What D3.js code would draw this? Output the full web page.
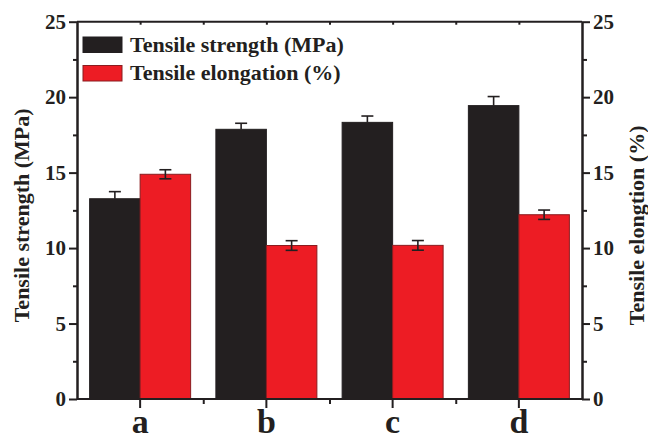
<!DOCTYPE html>
<html>
<head>
<meta charset="utf-8">
<script src="https://cdn.jsdelivr.net/npm/d3@7"></script>
<style>
    body { margin: 0; background: #fff; }
    text { font-family: "Liberation Serif", "Times New Roman", serif; font-weight: bold; fill: #231f20; }
</style>
</head>
<body>
<script>
var categories = ["a", "b", "c", "d"];
var strength = [13.27, 17.87, 18.33, 19.44];
var strengthErr = [0.47, 0.40, 0.42, 0.60];
var elongation = [14.89, 10.17, 10.18, 12.21];
var elongationErr = [0.30, 0.32, 0.32, 0.31];
var seriesNames = ["Tensile strength (MPa)", "Tensile elongation (%)"];
var yTicks = [0, 5, 10, 15, 20, 25];
var yMinorTicks = [2.5, 7.5, 12.5, 17.5, 22.5];

function init() {
    var w = 648;
    var h = 439;
    var left = 77, right = 582, top = 21.7, bottom = 399;
    var colors = ["#231f20", "#ed1c24"];
    var strokes = ["#231f20", "#8a1c1f"];

    var svg = d3.select("body")
        .append("svg")
        .attr("width", w)
        .attr("height", h);

    var x = d3.scaleBand()
        .domain(categories)
        .range([left, right])
        .paddingInner(0.2)
        .paddingOuter(0.1);

    var xs = d3.scaleBand()
        .domain([0, 1])
        .range([0, x.bandwidth()]);

    var yL = d3.scaleLinear().domain([0, 25]).range([bottom, top]);
    var yR = d3.scaleLinear().domain([0, 25]).range([bottom, top]);

    var rows = categories.map(function (c, i) {
        return [
            { cat: c, s: 0, v: strength[i], e: strengthErr[i], y: yL },
            { cat: c, s: 1, v: elongation[i], e: elongationErr[i], y: yR }
        ];
    });
    var flat = [].concat.apply([], rows);

    // bars
    svg.selectAll("rect.bar")
        .data(flat)
        .enter()
        .append("rect")
        .attr("class", "bar")
        .attr("x", function (d) { return x(d.cat) + xs(d.s); })
        .attr("width", xs.bandwidth())
        .attr("y", function (d) { return d.y(d.v); })
        .attr("height", function (d) { return bottom - d.y(d.v); })
        .attr("fill", function (d) { return colors[d.s]; })
        .attr("stroke", function (d) { return strokes[d.s]; })
        .attr("stroke-width", 1);

    // error bars
    var eb = svg.selectAll("g.err")
        .data(flat)
        .enter()
        .append("g")
        .attr("class", "err")
        .attr("stroke", "#231f20")
        .attr("stroke-width", 1.6);
    function cx(d) { return x(d.cat) + xs(d.s) + xs.bandwidth() / 2; }
    eb.append("line")
        .attr("x1", cx).attr("x2", cx)
        .attr("y1", function (d) { return d.y(d.v + d.e); })
        .attr("y2", function (d) { return d.s === 0 ? d.y(d.v) : d.y(d.v - d.e); });
    eb.append("line")
        .attr("x1", function (d) { return cx(d) - 6; })
        .attr("x2", function (d) { return cx(d) + 6; })
        .attr("y1", function (d) { return d.y(d.v + d.e); })
        .attr("y2", function (d) { return d.y(d.v + d.e); });
    eb.filter(function (d) { return d.s === 1; })
        .append("line")
        .attr("x1", function (d) { return cx(d) - 6; })
        .attr("x2", function (d) { return cx(d) + 6; })
        .attr("y1", function (d) { return d.y(d.v - d.e); })
        .attr("y2", function (d) { return d.y(d.v - d.e); });

    // axes
    var centers = categories.map(function (c) { return x(c) + x.bandwidth() / 2; });
    var mids = centers.slice(0, -1).map(function (c) { return c + x.step() / 2; });
    var xPix = d3.scaleLinear().domain([0, w]).range([0, w]);

    function styleAxis(g) {
        g.selectAll("path, line").attr("stroke", "#231f20").attr("stroke-width", 2);
        g.selectAll("text").attr("font-size", "21px").attr("fill", "#231f20");
    }

    svg.append("g")
        .attr("transform", "translate(0," + bottom + ")")
        .call(d3.axisBottom(xPix).tickValues(mids).tickSize(5).tickFormat("").tickSizeOuter(0))
        .call(styleAxis)
        .select(".domain").attr("d", "M" + left + ",0H" + right);
    var xb = svg.append("g")
        .attr("transform", "translate(0," + bottom + ")")
        .call(d3.axisBottom(x).tickSize(9).tickSizeOuter(0))
        .call(styleAxis);
    xb.select(".domain").remove();
    xb.selectAll("text")
        .attr("font-size", "34px")
        .attr("y", 34)
        .attr("dy", null);

    var xt = svg.append("g")
        .attr("transform", "translate(0," + top + ")")
        .call(d3.axisBottom(xPix).tickValues(centers.concat(mids)).tickSize(3).tickFormat("").tickSizeOuter(0))
        .call(styleAxis);
    xt.select(".domain").attr("d", "M" + left + ",0H" + right);

    svg.append("g")
        .attr("transform", "translate(" + left + ",0)")
        .call(d3.axisLeft(yL).tickValues(yMinorTicks).tickSize(4).tickFormat("").tickSizeOuter(0))
        .call(styleAxis);
    svg.append("g")
        .attr("transform", "translate(" + left + ",0)")
        .call(d3.axisLeft(yL).tickValues(yTicks).tickSize(8).tickPadding(3).tickSizeOuter(0))
        .call(styleAxis);
    svg.append("g")
        .attr("transform", "translate(" + right + ",0)")
        .call(d3.axisRight(yR).tickValues(yMinorTicks).tickSize(5).tickFormat("").tickSizeOuter(0))
        .call(styleAxis);
    svg.append("g")
        .attr("transform", "translate(" + right + ",0)")
        .call(d3.axisRight(yR).tickValues(yTicks).tickSize(8).tickPadding(3).tickSizeOuter(0))
        .call(styleAxis);

    // axis titles
    svg.append("text")
        .attr("transform", "translate(29," + ((top + bottom) / 2 + 5) + ") rotate(-90)")
        .attr("text-anchor", "middle")
        .attr("font-size", "22px")
        .text("Tensile strength (MPa)");
    svg.append("text")
        .attr("transform", "translate(644," + ((top + bottom) / 2 + 15) + ") rotate(-90)")
        .attr("text-anchor", "middle")
        .attr("font-size", "22px")
        .text("Tensile elongtion (%)");

    // legend
    var lg = svg.selectAll("g.legend")
        .data(seriesNames)
        .enter()
        .append("g")
        .attr("class", "legend")
        .attr("transform", function (d, i) { return "translate(83," + (37 + i * 28.5) + ")"; });
    lg.append("rect")
        .attr("width", 39)
        .attr("height", 15.5)
        .attr("fill", function (d, i) { return colors[i]; })
        .attr("stroke", function (d, i) { return strokes[i]; })
        .attr("stroke-width", 1);
    lg.append("text")
        .attr("x", 47)
        .attr("y", 14.5)
        .attr("font-size", "22px")
        .text(function (d) { return d; });
}

window.onload = init;
</script>
</body>
</html>
